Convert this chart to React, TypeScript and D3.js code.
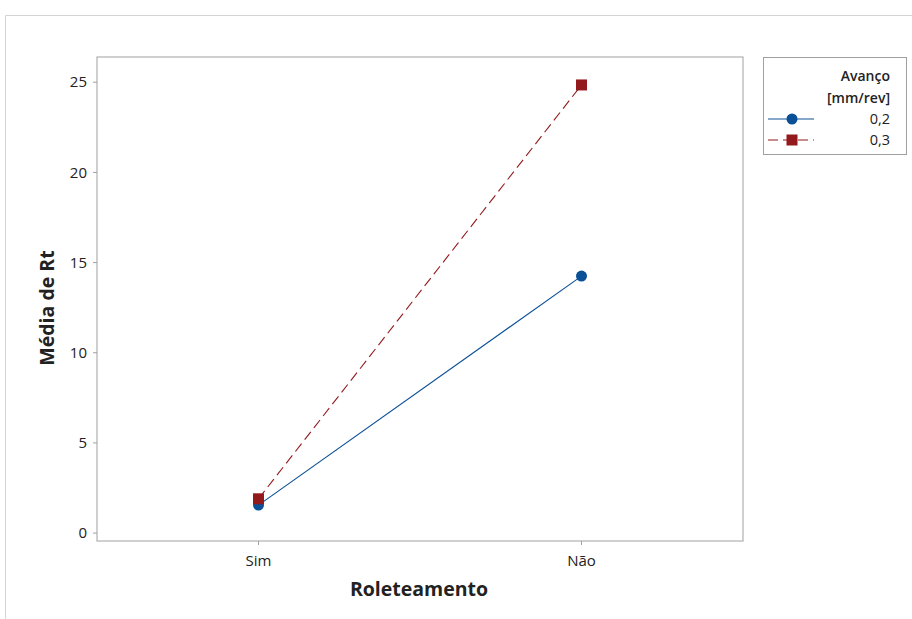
import React from "react";
import * as d3 from "d3";

const categories = ["Sim", "Não"];
const series = [
  { name: "0,2", values: [1.55, 14.25] },
  { name: "0,3", values: [1.9, 24.85] },
];
const yTicks = [0, 5, 10, 15, 20, 25];

const colors = ["#0a5096", "#921a1d"];
const font = "'Open Sans', 'Noto Sans', sans-serif";

export default function App() {
  const W = 912;
  const H = 619;
  const plot = { left: 97, top: 57, right: 743, bottom: 541 };

  const x = d3.scalePoint<string>().domain(categories).range([plot.left, plot.right]).padding(0.5);
  const y = d3.scaleLinear().domain([-0.44, 26.4]).range([plot.bottom, plot.top]);
  const line = d3
    .line<number>()
    .x((_, i) => x(categories[i]) as number)
    .y((d) => y(d));

  const axisColor = "#a0a0a0";

  const marker = (i: number, cx: number, cy: number) =>
    i === 0 ? (
      <circle cx={cx} cy={cy} r={5.5} fill={colors[0]} />
    ) : (
      <rect x={cx - 5.5} y={cy - 5.5} width={11} height={11} fill={colors[1]} />
    );

  return (
    <svg width={W} height={H} style={{ position: "absolute", left: 0, top: 0 }} fontFamily={font}>
      <rect x={0} y={0} width={W} height={H} fill="#fff" />
      <path d={`M5.5,${H}V15.5H${W}`} fill="none" stroke="#d4d4d4" />

      <rect
        x={plot.left}
        y={plot.top}
        width={plot.right - plot.left}
        height={plot.bottom - plot.top}
        fill="none"
        stroke={axisColor}
      />

      {yTicks.map((t) => (
        <g key={t}>
          <line x1={plot.left - 4} x2={plot.left} y1={y(t)} y2={y(t)} stroke={axisColor} />
          <text x={plot.left - 10} y={y(t)} dy="0.35em" textAnchor="end" fontSize={15} fill="#222">
            {t}
          </text>
        </g>
      ))}
      {categories.map((c) => (
        <g key={c}>
          <line x1={x(c)} x2={x(c)} y1={plot.bottom} y2={plot.bottom + 4} stroke={axisColor} />
          <text x={x(c)} y={plot.bottom + 25} textAnchor="middle" fontSize={15} fill="#222">
            {c}
          </text>
        </g>
      ))}

      <text x={419} y={596} textAnchor="middle" fontSize={19.5} fontWeight="bold" fill="#222">
        Roleteamento
      </text>
      <text
        transform={`translate(54,308) rotate(-90)`}
        textAnchor="middle"
        fontSize={19.5}
        fontWeight="bold"
        fill="#222"
      >
        Média de Rt
      </text>

      {series.map((s, i) => (
        <g key={s.name}>
          <path
            d={line(s.values) as string}
            fill="none"
            stroke={colors[i]}
            strokeWidth={1.1}
            strokeDasharray={i === 1 ? "10,5" : undefined}
          />
          {s.values.map((v, j) => (
            <g key={j}>{marker(i, x(categories[j]) as number, y(v))}</g>
          ))}
        </g>
      ))}

      <g>
        <rect x={763.5} y={57.5} width={143} height={97} fill="#fff" stroke={axisColor} />
        <text x={890} y={76} dy="0.35em" textAnchor="end" fontSize={14} fontWeight={600} fill="#222">
          Avanço
        </text>
        <text x={890} y={98} dy="0.35em" textAnchor="end" fontSize={14} fontWeight={600} fill="#222">
          [mm/rev]
        </text>
        {series.map((s, i) => {
          const ly = 119 + i * 21;
          return (
            <g key={s.name}>
              <line
                x1={768}
                x2={814}
                y1={ly}
                y2={ly}
                stroke={colors[i]}
                strokeWidth={1.1}
                strokeDasharray={i === 1 ? "10,5" : undefined}
              />
              {marker(i, 792, ly)}
              <text x={890} y={ly} dy="0.35em" textAnchor="end" fontSize={14.5} fill="#222">
                {s.name}
              </text>
            </g>
          );
        })}
      </g>
    </svg>
  );
}
